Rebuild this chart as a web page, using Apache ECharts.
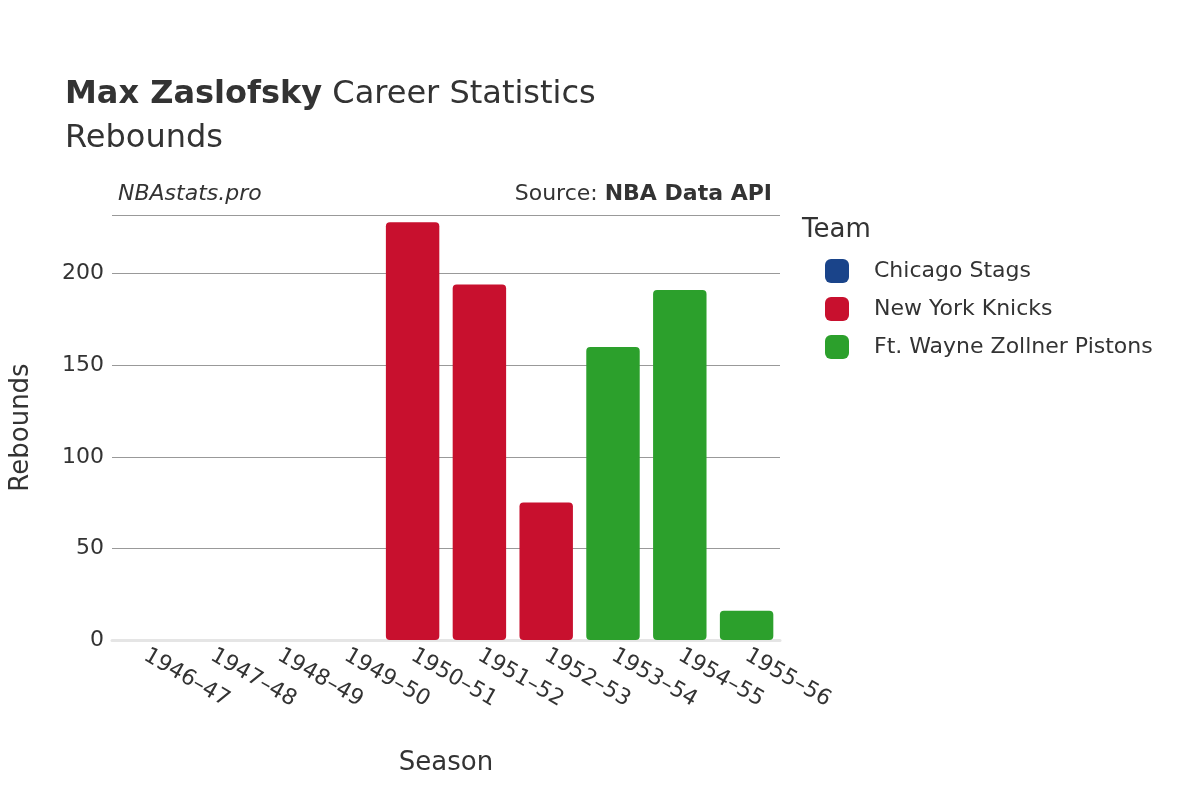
<!DOCTYPE html>
<html>
<head>
<meta charset="utf-8">
<script src="https://cdn.jsdelivr.net/npm/echarts@6/dist/echarts.min.js"></script>
<style>html,body{margin:0;padding:0;background:#fff}#main{width:1200px;height:800px}</style>
</head>
<body>
<div id="main"></div>
<script>
var seasons = ['1946–47','1947–48','1948–49','1949–50','1950–51','1951–52','1952–53','1953–54','1954–55','1955–56'];
var teams = ['Chicago Stags','New York Knicks','Ft. Wayne Zollner Pistons'];
var colors = ['#1a448a','#c8102e','#2ca02c'];
var chicago = [0, 0, 0, 0, null, null, null, null, null, null];
var knicks = [null, null, null, null, 228, 194, 75, null, null, null];
var pistons = [null, null, null, null, null, null, null, 160, 191, 16];
var yTicks = [0, 50, 100, 150, 200];

var font = 'DejaVu Sans';
var chart = echarts.init(document.getElementById('main'));
var seriesData = [chicago, knicks, pistons];
var series = teams.map(function (t, i) {
    return {
        name: t,
        type: 'bar',
        stack: 'all',
        barWidth: '80%',
        itemStyle: {color: colors[i], borderRadius: 4},
        data: seriesData[i]
    };
});
chart.setOption({
    animation: false,
    textStyle: {fontFamily: font},
    title: [
        {text: '{b|Max Zaslofsky} Career Statistics\nRebounds', left: 60, top: 68,
         textStyle: {fontSize: 32, fontWeight: 'normal', color: '#333', lineHeight: 44,
                     rich: {b: {fontSize: 32, fontWeight: 'bold', color: '#333'}}}},
        {text: 'NBAstats.pro', left: 113, top: 178,
         textStyle: {fontSize: 22, fontStyle: 'italic', fontWeight: 'normal', color: '#333'}},
        {text: 'Source: {b|NBA Data API}', right: 423, top: 178,
         textStyle: {fontSize: 22, fontWeight: 'normal', color: '#333', rich: {b: {fontSize: 22, fontWeight: 'bold', color: '#333'}}}},
        {text: 'Team', left: 797, top: 212, textStyle: {fontSize: 26, fontWeight: 'normal', color: '#333'}}
    ],
    legend: {
        orient: 'vertical', left: 820, top: 254, itemWidth: 24, itemHeight: 24, itemGap: 14,
        icon: 'roundRect',
        textStyle: {fontSize: 22, color: '#333', padding: [0, 0, 0, 20]},
        data: teams
    },
    grid: {left: 110, right: 420, top: 215, bottom: 160},
    xAxis: {
        type: 'category', data: seasons, name: 'Season', nameLocation: 'middle', nameGap: 110,
        nameTextStyle: {fontSize: 26, color: '#333'},
        axisLine: {lineStyle: {color: '#e5e5e5', width: 3}},
        axisTick: {show: false},
        axisLabel: {rotate: -30, fontSize: 22, color: '#333', margin: 14, align: 'left'}
    },
    yAxis: {
        type: 'value', min: 0, max: 232, interval: 50, name: 'Rebounds', nameLocation: 'middle', nameGap: 78,
        nameTextStyle: {fontSize: 26, color: '#333'},
        axisLine: {show: false}, axisTick: {show: false},
        axisLabel: {fontSize: 22, color: '#333', margin: 8, showMaxLabel: false,
            formatter: function (v) { return yTicks.indexOf(v) >= 0 ? v : ''; }},
        splitLine: {lineStyle: {color: '#999', width: 1}}
    },
    series: series
});
window.addEventListener('resize', function () { chart.resize(); });
</script>
</body>
</html>
